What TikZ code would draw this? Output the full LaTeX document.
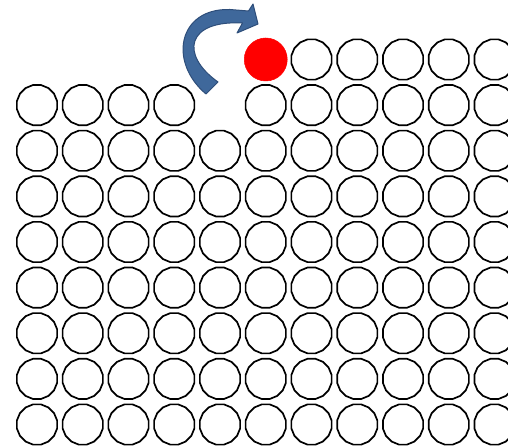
\documentclass[tikz,border=0pt]{standalone}
\usetikzlibrary{shapes.geometric}
\definecolor{arrowfill}{HTML}{3F689B}
\definecolor{arrowline}{HTML}{2E4E7A}
\tikzset{
  ball/.style={regular polygon, regular polygon sides=16, minimum size=41pt,
    inner sep=0pt, outer sep=0pt, draw=black, line width=1.7pt, fill=white},
  redball/.style={circle, minimum size=43pt, inner sep=0pt, fill=red, draw=red, line width=0.5pt},
  bluearrow/.style={fill=arrowfill, draw=arrowline, line width=1pt, line join=round}
}
\begin{document}
\begin{tikzpicture}[x=1pt,y=-1pt]
\useasboundingbox (0,0) rectangle (508,446);
\clip (0,0) rectangle (508,446);
% rows 2..8 full
\foreach \j in {2,...,8}{
  \foreach \i in {0,...,10}{
    \node[ball] (c-\i-\j) at ({37+45.75*\i},{59.5+45.625*\j}) {};
  }
}
% row 1: column 4 empty
\foreach \i in {0,1,2,3,5,6,7,8,9,10}{
  \node[ball] (c-\i-1) at ({37+45.75*\i},{59.5+45.625}) {};
}
% row 0: columns 6..10, column 5 red
\foreach \i in {6,...,10}{
  \node[ball] (c-\i-0) at ({37+45.75*\i},59.5) {};
}
\node[redball] (red) at ({37+45.75*5},59.5) {};
% curved arrow
\path[bluearrow] (206,94) .. controls (168,62) and (178,8) .. (230,9.5)
  -- (248.5,11) -- (253,4) -- (258,24) -- (237,33) -- (242.5,23)
  .. controls (186,20) and (180,55) .. (218,82) -- cycle;
\end{tikzpicture}
\end{document}
